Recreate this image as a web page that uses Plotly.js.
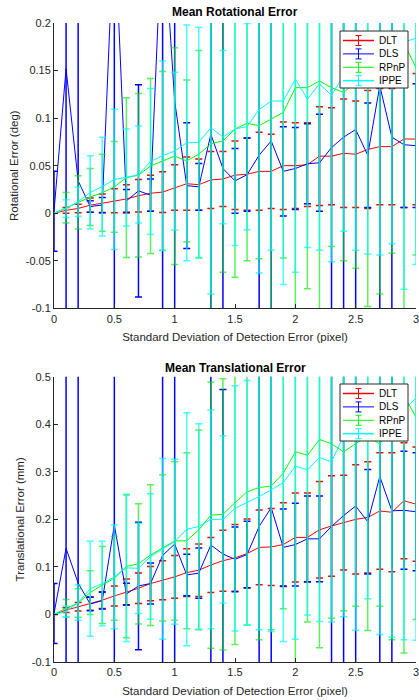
<!DOCTYPE html>
<html>
<head>
<meta charset="utf-8">
<script src="https://cdn.plot.ly/plotly-3.0.1.min.js"></script>
<style>html,body{margin:0;padding:0;background:#fff;}#chart{width:419px;height:700px;}</style>
</head>
<body>
<div id="chart"></div>
<script>
// ---- data ----
const noiseStd = [0,0.1,0.2,0.3,0.4,0.5,0.6,0.7,0.8,0.9,1.0,1.1,1.2,1.3,1.4,1.5,1.6,1.7,1.8,1.9,2.0,2.1,2.2,2.3,2.4,2.5,2.6,2.7,2.8,2.9,3.0];
const methods = ['DLT','DLS','RPnP','IPPE'];

// Mean rotational error (deg) and its standard deviation
const rotDLT = [0,0.003,0.005,0.0085,0.0105,0.013,0.015,0.0184,0.021,0.0222,0.027,0.031,0.030,0.035,0.036,0.040,0.041,0.044,0.044,0.050,0.050,0.051,0.060,0.060,0.063,0.062,0.067,0.070,0.070,0.078,0.078];
const rotDLTStd = [0,0.003,0.0045,0.0075,0.0098,0.0126,0.0148,0.017,0.019,0.0215,0.024,0.028,0.027,0.030,0.029,0.036,0.038,0.041,0.039,0.046,0.045,0.044,0.052,0.051,0.057,0.056,0.062,0.061,0.061,0.072,0.069];
const rotDLS = [0.002,0.152,0.034,0.007,0.0086,0.31,0.013,0.0235,0.019,0.314,0.118,0.029,0.0277,0.083,0.047,0.034,0.0405,0.061,0.076,0.044,0.047,0.052,0.053,0.069,0.080,0.088,0.061,0.134,0.080,0.072,0.071];
const rotDLSStd = [0.042,0.5,0.5,0.006,0.008,0.5,0.012,0.1115,0.017,0.5,0.5,0.066,0.0245,0.35,0.3,0.034,0.0385,0.25,0.25,0.047,0.043,0.042,0.051,0.25,0.25,0.25,0.055,0.3,0.25,0.066,0.065];
const rotRPnP = [0,0.0058,0.0114,0.017,0.0215,0.0277,0.0375,0.040,0.0497,0.055,0.060,0.055,0.062,0.073,0.076,0.0886,0.0945,0.092,0.099,0.106,0.132,0.132,0.139,0.132,0.127,0.138,0.148,0.150,0.160,0.179,0.153];
const rotRPnPStd = [0,0.016,0.028,0.030,0.0405,0.0476,0.084,0.086,0.092,0.094,0.114,0.085,0.109,0.25,0.138,0.156,0.1445,0.140,0.25,0.153,0.30,0.2115,0.30,0.167,0.177,0.196,0.246,0.235,0.202,0.30,0.197];
const rotIPPE = [0,0.0048,0.012,0.0218,0.028,0.0356,0.0375,0.0406,0.0543,0.0605,0.0653,0.074,0.0745,0.090,0.080,0.0886,0.091,0.109,0.118,0.118,0.141,0.120,0.136,0.124,0.145,0.155,0.160,0.168,0.172,0.180,0.184];
const rotIPPEStd = [0,0.0093,0.0154,0.0385,0.052,0.0738,0.051,0.051,0.0767,0.0996,0.083,0.124,0.121,0.175,0.091,0.1226,0.1085,0.172,0.157,0.193,0.203,0.156,0.175,0.175,0.164,0.194,0.203,0.212,0.204,0.260,0.238];

// Mean translational error (mm) and its standard deviation
const trDLT = [0,0.009,0.016,0.023,0.030,0.039,0.047,0.055,0.065,0.072,0.079,0.088,0.093,0.104,0.113,0.119,0.128,0.141,0.142,0.147,0.162,0.162,0.178,0.186,0.193,0.200,0.204,0.2175,0.215,0.239,0.232];
const trDLTStd = [0,0.005,0.009,0.014,0.0175,0.021,0.0277,0.032,0.036,0.041,0.045,0.050,0.055,0.058,0.064,0.070,0.0725,0.0785,0.081,0.088,0.0935,0.0935,0.1015,0.1055,0.0995,0.115,0.117,0.1225,0.125,0.122,0.12];
const trDLS = [0.002,0.139,0.066,0.022,0.029,0.188,0.043,0.060,0.065,0.124,0.148,0.083,0.087,0.146,0.127,0.116,0.126,0.185,0.2245,0.141,0.147,0.159,0.159,0.185,0.208,0.228,0.195,0.29,0.218,0.219,0.216];
const trDLSStd = [0.063,0.6,0.6,0.014,0.0175,0.6,0.0227,0.134,0.043,0.6,0.6,0.0435,0.053,0.4,0.346,0.068,0.070,0.35,0.4,0.081,0.087,0.09,0.09,0.35,0.35,0.35,0.11,0.45,0.35,0.124,0.124];
const trRPnP = [0,0.013,0.024,0.046,0.062,0.076,0.101,0.1065,0.125,0.140,0.1545,0.155,0.178,0.209,0.2105,0.235,0.258,0.267,0.270,0.297,0.342,0.335,0.368,0.359,0.342,0.359,0.375,0.358,0.40,0.46,0.415];
const trRPnPStd = [0,0.0186,0.03,0.046,0.081,0.088,0.15,0.1265,0.148,0.154,0.1667,0.185,0.21,0.28,0.285,0.298,0.28,0.32,0.302,0.285,0.5,0.351,0.438,0.367,0.334,0.3415,0.409,0.3405,0.453,0.541,0.4255];
const trIPPE = [0,0.006,0.025,0.054,0.065,0.079,0.098,0.097,0.122,0.138,0.153,0.179,0.185,0.200,0.200,0.223,0.235,0.248,0.262,0.277,0.312,0.304,0.330,0.321,0.375,0.385,0.38,0.40,0.41,0.43,0.455];
const trIPPEStd = [0,0.012,0.037,0.100,0.089,0.109,0.155,0.095,0.132,0.19,0.1735,0.245,0.216,0.23,0.176,0.258,0.257,0.28,0.298,0.334,0.364,0.305,0.345,0.337,0.38,0.418,0.347,0.442,0.458,0.483,0.509];

// ticks
const xTickVals = [0,0.5,1,1.5,2,2.5,3];
const xTickText = ['0','0.5','1','1.5','2','2.5','3'];
const rotTickVals = [-0.1,-0.05,0,0.05,0.1,0.15,0.2];
const rotTickText = ['-0.1','-0.05','0','0.05','0.1','0.15','0.2'];
const trTickVals = [-0.1,0,0.1,0.2,0.3,0.4,0.5];
const trTickText = ['-0.1','0','0.1','0.2','0.3','0.4','0.5'];

// ---- styling ----
const W = 419, H = 700, ML = 54, MR = 3, MT = 23, MB = 38;
const PW = W - ML - MR, PH = H - MT - MB;
const colors = {DLT:'#ff0000', DLS:'#0000ff', RPnP:'#00ff00', IPPE:'#00ffff'};
const barColors = {DLT:'#ff0000', DLS:'#0000ff', RPnP:'rgba(0,235,0,0.65)', IPPE:'rgba(0,255,255,0.72)'};
const FONT = 'Liberation Sans, Arial, Helvetica, sans-serif';
const INK = '#262626';

function mk(name, y, err, xa, ya) {
  return {
    type:'scatter', mode:'lines', name:name, x:noiseStd, y:y,
    xaxis:xa, yaxis:ya, showlegend:false, cliponaxis:true,
    line:{color:colors[name], width:1},
    error_y:{type:'data', array:err, symmetric:true, visible:true,
             color:barColors[name], thickness:1.5, width:3.5}
  };
}

const traces = [
  mk('DLT', rotDLT, rotDLTStd, 'x','y'),
  mk('DLS', rotDLS, rotDLSStd, 'x','y'),
  mk('RPnP', rotRPnP, rotRPnPStd, 'x','y'),
  mk('IPPE', rotIPPE, rotIPPEStd, 'x','y'),
  mk('DLT', trDLT, trDLTStd, 'x2','y2'),
  mk('DLS', trDLS, trDLSStd, 'x2','y2'),
  mk('RPnP', trRPnP, trRPnPStd, 'x2','y2'),
  mk('IPPE', trIPPE, trIPPEStd, 'x2','y2')
];

const axBase = {
  showline:true, linecolor:INK, linewidth:1, ticks:'inside', ticklen:4,
  tickcolor:INK, tickwidth:1, showgrid:false, zeroline:false, mirror:false,
  ticklabeloverflow:'allow',
  tickfont:{family:FONT, size:11, color:INK}
};
const xTitle = 'Standard Deviation of Detection Error (pixel)';
const titleFont = {family:FONT, size:11.5, color:INK};

// pixel -> paper helpers (legend box drawn in the style of the original)
const px = v => (v - ML) / PW;
const py = v => (H - MB - v) / PH;

const shapes = [], annotations = [];
function legendBox(top) {
  shapes.push({type:'rect', xref:'paper', yref:'paper', x0:px(340), x1:px(408), y0:py(top), y1:py(top+57),
    line:{color:INK, width:1}, fillcolor:'#ffffff', layer:'above'});
  methods.forEach((m, i) => {
    const yc = top + 9.5 + i * 13.4;
    const lw = (m === 'DLT' || m === 'IPPE') ? 1.5 : 1;
    shapes.push({type:'line', xref:'paper', yref:'paper', x0:px(343), x1:px(374), y0:py(yc), y1:py(yc),
      line:{color:colors[m], width:lw}, layer:'above'});
    shapes.push({type:'line', xref:'paper', yref:'paper', x0:px(358.5), x1:px(358.5), y0:py(yc-5), y1:py(yc+5),
      line:{color:colors[m], width:1}, layer:'above'});
    shapes.push({type:'line', xref:'paper', yref:'paper', x0:px(355.5), x1:px(361.5), y0:py(yc-5), y1:py(yc-5),
      line:{color:colors[m], width:1}, layer:'above'});
    shapes.push({type:'line', xref:'paper', yref:'paper', x0:px(355.5), x1:px(361.5), y0:py(yc+5), y1:py(yc+5),
      line:{color:colors[m], width:1}, layer:'above'});
    annotations.push({text:m, xref:'paper', yref:'paper', x:px(377), y:py(yc), xanchor:'left', yanchor:'middle',
      showarrow:false, font:{family:FONT, size:10, color:'#000000'}});
  });
}
legendBox(31);
legendBox(384);

annotations.push(
  {text:'<b>Mean Rotational Error</b>', xref:'paper', yref:'paper', x:0.5, y:py(12),
   xanchor:'center', yanchor:'middle', showarrow:false, font:{family:FONT,size:12,color:'#000000'}},
  {text:'<b>Mean Translational Error</b>', xref:'paper', yref:'paper', x:0.5, y:py(368),
   xanchor:'center', yanchor:'middle', showarrow:false, font:{family:FONT,size:12,color:'#000000'}}
);

const layout = {
  width:W, height:H,
  margin:{l:ML, r:MR, t:MT, b:MB},
  paper_bgcolor:'#ffffff', plot_bgcolor:'#ffffff',
  font:{family:FONT, size:11, color:INK},
  showlegend:false,
  xaxis:Object.assign({}, axBase, {domain:[0,1], range:[0,3], anchor:'y',
    tickvals:xTickVals, ticktext:xTickText,
    title:{text:xTitle, font:titleFont, standoff:9}}),
  yaxis:Object.assign({}, axBase, {domain:[0.5535,1], range:[-0.1,0.2], anchor:'x',
    tickvals:rotTickVals, ticktext:rotTickText,
    title:{text:'Rotational Error (deg)', font:titleFont, standoff:4}}),
  xaxis2:Object.assign({}, axBase, {domain:[0,1], range:[0,3], anchor:'y2',
    tickvals:xTickVals, ticktext:xTickText,
    title:{text:xTitle, font:titleFont, standoff:9}}),
  yaxis2:Object.assign({}, axBase, {domain:[0,0.4465], range:[-0.1,0.5], anchor:'x2',
    tickvals:trTickVals, ticktext:trTickText,
    title:{text:'Translational Error (mm)', font:titleFont, standoff:4}}),
  shapes:shapes,
  annotations:annotations
};

Plotly.newPlot('chart', traces, layout, {displayModeBar:false, staticPlot:true});
</script>
</body>
</html>
